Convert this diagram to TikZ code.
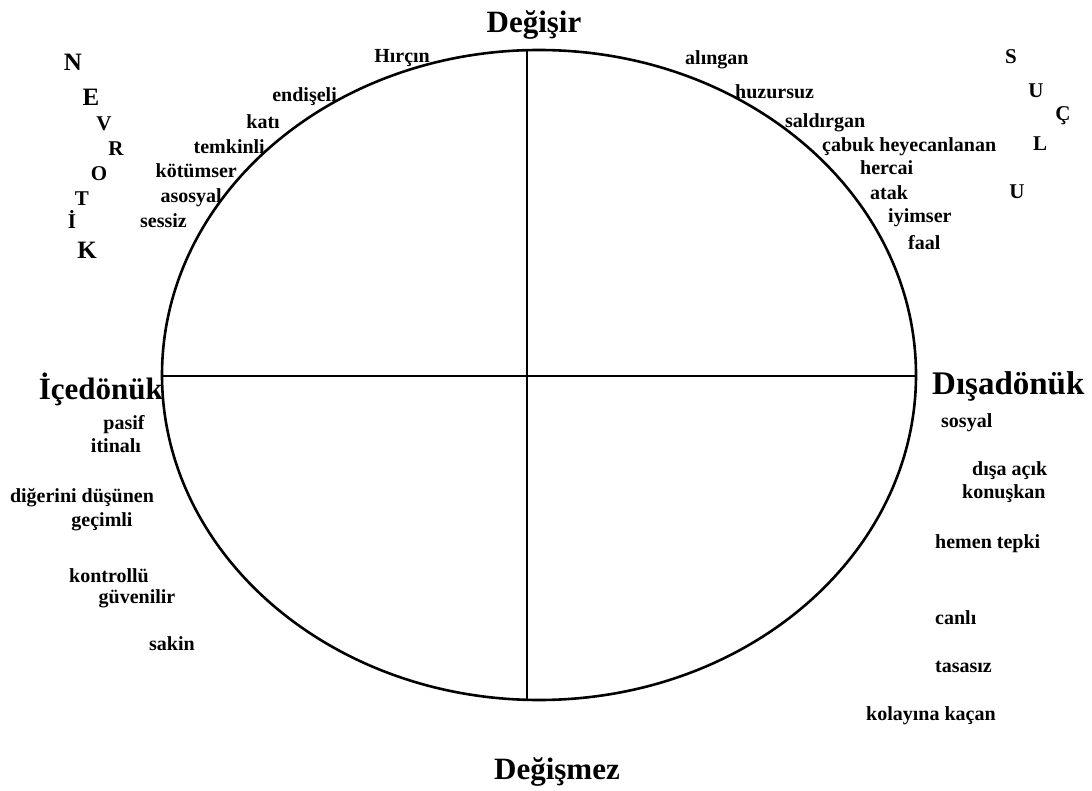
\documentclass[tikz,border=0pt]{standalone}
\usepackage{fontspec}
\setmainfont{Liberation Serif}
\usepackage{tikz}

\tikzset{
  trait/.style={font=\fontsize{20}{24}\selectfont\bfseries,inner sep=0pt},
  pole/.style={font=\fontsize{31}{36}\selectfont\bfseries,inner sep=0pt},
  letter/.style={font=\fontsize{21}{26}\selectfont\bfseries,inner sep=0pt},
  bigletter/.style={font=\fontsize{25}{30}\selectfont\bfseries,inner sep=0pt}
}

\begin{document}
\begin{tikzpicture}[x=1pt,y=-1pt]
	    \useasboundingbox (0,0) rectangle (1092,791);
	    % ellipse and axes
	    \draw[line width=2.6pt] (539,375) ellipse [x radius=377, y radius=325];
	    \coordinate (top) at (527,50);
	    \coordinate (bot) at (527,700);
	    \coordinate (lft) at (162,376);
	    \coordinate (rgt) at (916,376);
	    \draw[line width=2pt] (lft) -- (rgt);
	    \draw[line width=2pt] (top) -- (bot);
	    % poles
	    \node[pole] (degisir) at (534,25) {Değişir};
	    \node[pole] (degismez) at (557,772) {Değişmez};
	    \node[pole,anchor=mid east] (icedonuk) at (163,397) {İçedönük};
	    \node[pole,anchor=mid west,font=\fontsize{33}{38}\selectfont\bfseries] (disadonuk) at (932,392) {Dışadönük};
	    % nevrotik
	    \node[bigletter] (n) at (73,62) {N};
	    \node[bigletter] (e) at (91,97) {E};
	    \node[letter] (v) at (104,124) {V};
	    \node[letter] (r) at (116,149) {R};
	    \node[letter] (o) at (99,174) {O};
	    \node[letter] (t) at (82,199) {T};
	    \node[letter] (i) at (72,220) {İ};
	    \node[bigletter] (k) at (87,250) {K};
	    % suclu
	    \node[letter] (s) at (1011,57) {S};
	    \node[letter] (u1) at (1036,91) {U};
	    \node[letter] (c) at (1063,116) {Ç};
	    \node[letter] (l) at (1040,144) {L};
	    \node[letter] (u2) at (1017,192) {U};
	    % upper left
	    \node[trait,anchor=mid east] (hircin) at (430,60) {Hırçın};
	    \node[trait,anchor=mid east] (endiseli) at (337,99) {endişeli};
	    \node[trait,anchor=mid east] (kati) at (280,126) {katı};
	    \node[trait,anchor=mid east] (temkinli) at (265,151) {temkinli};
	    \node[trait,anchor=mid east] (kotumser) at (237,175) {kötümser};
	    \node[trait,anchor=mid east] (asosyal) at (222,200) {asosyal};
	    \node[trait,anchor=mid east] (sessiz) at (187,225) {sessiz};
	    % upper right
	    \node[trait,anchor=mid west] (alingan) at (685,62) {alıngan};
	    \node[trait,anchor=mid west] (huzursuz) at (735,96) {huzursuz};
	    \node[trait,anchor=mid west] (saldirgan) at (785,125) {saldırgan};
	    \node[trait,anchor=mid west] (cabuk) at (822,149) {çabuk heyecanlanan};
	    \node[trait,anchor=mid west] (hercai) at (860,172) {hercai};
	    \node[trait,anchor=mid west] (atak) at (870,197) {atak};
	    \node[trait,anchor=mid west] (iyimser) at (888,220) {iyimser};
	    \node[trait,anchor=mid west] (faal) at (908,247) {faal};
	    % lower left
	    \node[trait,anchor=mid] (pasif) at (124,427) {pasif};
	    \node[trait,anchor=mid] (itinali) at (116,450) {itinalı};
	    \node[trait,anchor=mid] (digerini) at (82,500) {diğerini düşünen};
	    \node[trait,anchor=mid] (gecimli) at (102,524) {geçimli};
	    \node[trait,anchor=mid] (kontrollu) at (109,580) {kontrollü};
	    \node[trait,anchor=mid] (guvenilir) at (137,601) {güvenilir};
	    \node[trait,anchor=mid] (sakin) at (172,648) {sakin};
	    % lower right
	    \node[trait,anchor=mid west] (sosyal) at (941,425) {sosyal};
	    \node[trait,anchor=mid west] (disaacik) at (972,473) {dışa açık};
	    \node[trait,anchor=mid west] (konuskan) at (962,496) {konuşkan};
	    \node[trait,anchor=mid west] (hemen) at (935,546) {hemen tepki};
	    \node[trait,anchor=mid west] (canli) at (935,622) {canlı};
	    \node[trait,anchor=mid west] (tasasiz) at (935,670) {tasasız};
	    \node[trait,anchor=mid west] (kolayina) at (866,718) {kolayına kaçan};
	\end{tikzpicture}
\end{document}
